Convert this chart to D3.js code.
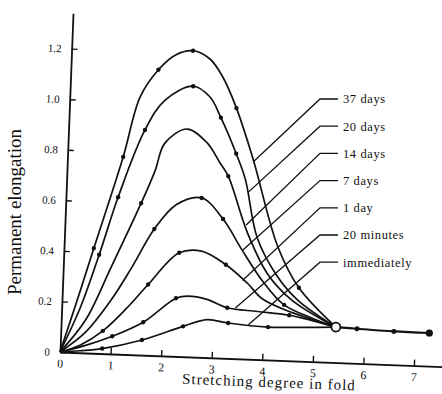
<!DOCTYPE html>
<html>
<head>
<meta charset="utf-8">
<script src="https://cdnjs.cloudflare.com/ajax/libs/d3/7.8.5/d3.min.js"></script>
<style>
    body { margin: 0; background: #fff; }
    svg { display: block; font-family: "Liberation Serif", "DejaVu Serif", serif; }
</style>
</head>
<body>
<div id="chart"></div>
<script>
// values (x = stretching degree, y = permanent elongation)
// third item = 1 where the original shows a measured dot
const xTicks = [0, 1, 2, 3, 4, 5, 6, 7];
const yTicks = [0, 0.2, 0.4, 0.6, 0.8, 1.0, 1.2];
const yTickLabels = ['0', '0.2', '0.4', '0.6', '0.8', '1.0', '1.2'];

const days37 = [[0, 0], [0.29, 0.2], [0.59, 0.415, 1], [1.1, 0.78, 1], [1.39, 1.02], [1.73, 1.13, 1], [2.05, 1.19],
    [2.4, 1.21, 1], [2.74, 1.18], [3.01, 1.11], [3.3, 0.99, 1], [3.67, 0.79], [4.22, 0.45], [4.67, 0.29, 1], [5.43, 0.14]];
const days20 = [[0, 0], [0.37, 0.18], [0.7, 0.39, 1], [1.03, 0.62, 1], [1.51, 0.89, 1], [1.88, 1.01], [2.43, 1.07, 1],
    [2.77, 1.03], [3.0, 0.95, 1], [3.33, 0.81, 1], [3.53, 0.71], [3.81, 0.48], [4.24, 0.33], [4.66, 0.24], [5.43, 0.14]];
const days14 = [[0, 0], [0.48, 0.13], [0.94, 0.34], [1.49, 0.6, 1], [1.74, 0.73], [1.91, 0.84], [2.34, 0.9],
    [2.74, 0.85], [3.02, 0.77], [3.19, 0.72, 1], [3.61, 0.5], [4.04, 0.34], [4.54, 0.24], [5.43, 0.14]];
const days7 = [[0, 0], [0.48, 0.08], [0.96, 0.21], [1.34, 0.34], [1.77, 0.5, 1], [2.19, 0.6], [2.68, 0.63, 1],
    [3.12, 0.55, 1], [3.52, 0.43], [3.95, 0.31], [4.39, 0.22, 1], [4.98, 0.17], [5.43, 0.14]];
const day1 = [[0, 0], [0.39, 0.03], [0.83, 0.09, 1], [1.27, 0.18], [1.69, 0.28, 1], [2.28, 0.41, 1], [2.72, 0.42],
    [3.21, 0.37, 1], [3.65, 0.3], [3.96, 0.24], [4.57, 0.19], [5.43, 0.14]];
const minutes20 = [[0, 0], [0.5, 0.03], [1.02, 0.07, 1], [1.62, 0.13, 1], [2.25, 0.23, 1], [2.49, 0.24], [2.86, 0.23],
    [3.27, 0.2, 1], [3.87, 0.19], [4.5, 0.18, 1], [5.43, 0.14]];
const immediately = [[0, 0], [0.4, 0.008], [0.83, 0.02, 1], [1.61, 0.06, 1], [2.41, 0.12, 1], [2.88, 0.15],
    [3.3, 0.14, 1], [4.09, 0.13, 1], [4.78, 0.134], [5.43, 0.14]];
// common branch after the curves meet
const tail = [[5.43, 0.14], [5.85, 0.137], [6.58, 0.132], [7.28, 0.131]];

const seriesNames = ['37 days', '20 days', '14 days', '7 days', '1 day', '20 minutes', 'immediately'];
const seriesData = [days37, days20, days14, days7, day1, minutes20, immediately];
// where each label's leader line touches its curve
const leaderPoints = [[3.67, 0.78], [3.6, 0.66], [3.58, 0.53], [3.53, 0.43], [3.55, 0.31], [3.43, 0.2], [3.7, 0.136]];

const W = 442, H = 394;
const origin = { x: 60, y: 352 };
const angle = 2.2; // the scan is slightly tilted
const font = '"Liberation Serif", "DejaVu Serif", serif';

const svg = d3.select('#chart').append('svg').attr('width', W).attr('height', H);

const x = d3.scaleLinear().domain([0, 7.57]).range([0, 383]);
const y = d3.scaleLinear().domain([0, 1.34]).range([0, -339]);

const plot = svg.append('g')
    .attr('transform', `translate(${origin.x},${origin.y}) rotate(${angle})`);

const xAxis = plot.append('g')
    .call(d3.axisBottom(x).tickValues(xTicks).tickSize(-6).tickSizeOuter(0).tickPadding(7).tickFormat(d3.format('d')));
const yAxis = plot.append('g')
    .call(d3.axisLeft(y).tickValues(yTicks).tickSize(-6).tickSizeOuter(0).tickPadding(10)
        .tickFormat((d, i) => yTickLabels[i]));

[xAxis, yAxis].forEach((g) => {
    g.attr('font-family', font);
    g.select('.domain').attr('stroke', '#111').attr('stroke-width', 1.8);
    g.selectAll('.tick line').attr('stroke', '#111').attr('stroke-width', 1.4);
    g.selectAll('.tick text').attr('fill', '#111');
});
xAxis.selectAll('.tick text').style('font-size', '12px');
yAxis.selectAll('.tick text').style('font-size', '11px');

plot.append('text')
    .attr('x', x(4.15))
    .attr('y', 27)
    .attr('text-anchor', 'middle')
    .style('font-size', '15px')
    .style('letter-spacing', '1px')
    .attr('fill', '#111')
    .text('Stretching degree in fold');

const line = d3.line()
    .x((d) => x(d[0]))
    .y((d) => y(d[1]))
    .curve(d3.curveCatmullRom.alpha(0.5));

plot.selectAll('.curve')
    .data(seriesData)
    .enter()
    .append('path')
    .attr('class', 'curve')
    .attr('d', line)
    .attr('fill', 'none')
    .attr('stroke', '#111')
    .attr('stroke-width', 1.7);

plot.append('path')
    .attr('d', line(tail))
    .attr('fill', 'none')
    .attr('stroke', '#111')
    .attr('stroke-width', 2.2);

const dots = seriesData.flatMap((s) => s.filter((d) => d[2]));
plot.selectAll('.dot')
    .data(dots)
    .enter()
    .append('circle')
    .attr('class', 'dot')
    .attr('cx', (d) => x(d[0]))
    .attr('cy', (d) => y(d[1]))
    .attr('r', 2.2)
    .attr('fill', '#111');

// tail markers: open ring where curves meet, then solid dots
plot.append('circle')
    .attr('cx', x(tail[0][0]))
    .attr('cy', y(tail[0][1]))
    .attr('r', 4.5)
    .attr('fill', '#fff')
    .attr('stroke', '#111')
    .attr('stroke-width', 1.8);
plot.selectAll('.tail-dot')
    .data(tail.slice(1))
    .enter()
    .append('circle')
    .attr('class', 'tail-dot')
    .attr('cx', (d) => x(d[0]))
    .attr('cy', (d) => y(d[1]))
    .attr('r', (d, i) => (i === 2 ? 3.6 : 2.5))
    .attr('fill', '#111');

// screen position of a data point inside the tilted plot
function toScreen(d) {
    const a = (angle * Math.PI) / 180;
    const px = x(d[0]), py = y(d[1]);
    return [origin.x + px * Math.cos(a) - py * Math.sin(a), origin.y + px * Math.sin(a) + py * Math.cos(a)];
}

const labelTop = 99, labelStep = 27.2, leaderStart = 320, leaderEnd = 338;
const labels = svg.append('g');
seriesNames.forEach((name, i) => {
    const ly = labelTop + i * labelStep;
    const [tx, ty] = toScreen(leaderPoints[i]);
    labels.append('path')
        .attr('d', `M${leaderEnd},${ly}H${leaderStart}L${tx},${ty}`)
        .attr('fill', 'none')
        .attr('stroke', '#111')
        .attr('stroke-width', 1.3);
    labels.append('text')
        .attr('x', leaderEnd + 5)
        .attr('y', ly)
        .attr('dy', '0.35em')
        .style('font-size', '12.5px')
        .style('letter-spacing', '0.6px')
        .attr('fill', '#111')
        .text(name);
});

svg.append('text')
    .attr('transform', 'translate(21,212) rotate(-90)')
    .attr('text-anchor', 'middle')
    .style('font-size', '19px')
    .attr('fill', '#111')
    .text('Permanent elongation');
</script>
</body>
</html>
